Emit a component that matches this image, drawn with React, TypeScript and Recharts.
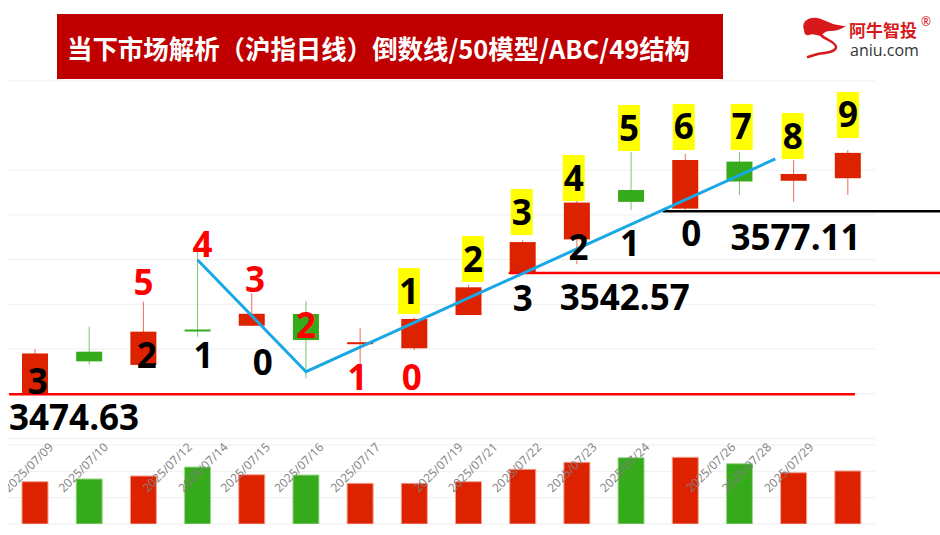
import React from 'react';
import {
	ComposedChart,
	Bar,
	Line,
	Scatter,
	XAxis,
	YAxis,
	CartesianGrid,
	ReferenceLine,
	Cell,
} from 'recharts';

// 沪指日线 2025/07/08 - 2025/07/29
const DATES = ['07/08', '07/09', '07/10', '07/11', '07/14', '07/15', '07/16', '07/17', '07/18', '07/21', '07/22', '07/23', '07/24', '07/25', '07/28', '07/29'];
const OPEN = [3474.7, 3498.5, 3491.1, 3510.9, 3513.0, 3519.6, 3502.8, 3500.4, 3519.0, 3542.6, 3561.3, 3588.9, 3578.5, 3604.8, 3594.1, 3595.5];
const CLOSE = [3497.5, 3493.1, 3509.7, 3510.2, 3519.7, 3505.0, 3503.8, 3516.8, 3534.5, 3559.8, 3581.9, 3582.3, 3605.7, 3593.7, 3597.9, 3609.7];
const HIGH = [3499.8, 3512.5, 3526.5, 3554.4, 3531.2, 3526.8, 3511.6, 3517.5, 3535.8, 3561.0, 3582.9, 3610.3, 3609.1, 3610.3, 3605.7, 3611.3];
const LOW = [3474.63, 3491.2, 3491.0, 3506.9, 3513.0, 3483.6, 3485.0, 3499.4, 3519.0, 3542.57, 3547.4, 3577.7, 3577.11, 3586.1, 3582.4, 3586.1];
const VOLUME = [4820, 5130, 5470, 6490, 5610, 5580, 4630, 4630, 4820, 6230, 7030, 7550, 7600, 6870, 5840, 6040];

const DATE_LABELS = ['2025/07/09', '2025/07/10', '2025/07/12', '2025/07/14', '2025/07/15', '2025/07/16', '2025/07/17', '2025/07/19', '2025/07/21', '2025/07/22', '2025/07/23', '2025/07/24', '2025/07/26', '2025/07/28', '2025/07/29'];
const DATE_TICKS = [0.35, 1.36, 2.91, 3.57, 4.35, 5.34, 6.38, 7.91, 8.55, 9.36, 10.38, 11.35, 12.94, 13.6, 14.38];

const PRICE_TICKS = [3475, 3500, 3525, 3550, 3575, 3600];
const VOLUME_TICKS = [0, 1000, 2000, 3000, 4000, 5000, 6000, 7000, 8000, 9000];

const LOW_LEVEL = 3474.63;
const MID_LEVEL = 3542.57;
const HIGH_LEVEL = 3577.11;

// ABC 结构线
const ABC_LINE = [
	{ x: 3, y: 3549.8 },
	{ x: 5, y: 3487.3 },
	{ x: 13.66, y: 3606.3 },
];

// 红色顶部计数 5-0
const TOP_COUNT = [
	{ x: 2, y: 3537.2, t: '5' },
	{ x: 3.09, y: 3558.2, t: '4' },
	{ x: 4.06, y: 3538.6, t: '3' },
	{ x: 5, y: 3512.9, t: '2' },
	{ x: 5.95, y: 3484.1, t: '1' },
	{ x: 6.95, y: 3484.3, t: '0' },
];

// 黑色倒数 3-0
const BOTTOM_COUNT = [
	{ x: 0.05, y: 3481.8, t: '3' },
	{ x: 2.06, y: 3496.6, t: '2' },
	{ x: 3.11, y: 3496.4, t: '1' },
	{ x: 4.2, y: 3492.5, t: '0' },
	{ x: 9, y: 3528.2, t: '3' },
	{ x: 10.03, y: 3556.8, t: '2' },
	{ x: 10.98, y: 3559.0, t: '1' },
	{ x: 12.11, y: 3564.6, t: '0' },
];

// 黄底九转 1-9
const NINE_COUNT = [
	{ x: 6.9, y: 3532.4, t: '1' },
	{ x: 8.08, y: 3550.3, t: '2' },
	{ x: 8.98, y: 3576.6, t: '3' },
	{ x: 9.94, y: 3595.6, t: '4' },
	{ x: 10.96, y: 3623.6, t: '5' },
	{ x: 11.97, y: 3624.2, t: '6' },
	{ x: 13.04, y: 3624.2, t: '7' },
	{ x: 13.98, y: 3619.1, t: '8' },
	{ x: 15.0, y: 3630.9, t: '9' },
];

const RED = '#dd2200';
const GREEN = '#35aa1a';
const DIGIT_FONT = "'Open Sans', 'DejaVu Sans', sans-serif";

const candles = DATES.map((d, i) => ({
	date: d,
	x: i,
	open: OPEN[i],
	close: CLOSE[i],
	high: HIGH[i],
	low: LOW[i],
}));

const volumeRows = DATES.map((d, i) => ({
	date: d,
	vol: VOLUME[i],
	up: CLOSE[i] >= OPEN[i],
}));

function CandleShape(props: any) {
	const { x, y, width, height, payload } = props;
	if (!payload) return null;
	const { open, close, high, low } = payload;
	const top = Math.min(y, y + height);
	const h = Math.abs(height);
	const ratio = h / (high - low);
	const yOf = (v: number) => top + (high - v) * ratio;
	const color = close >= open ? RED : GREEN;
	const bodyTop = yOf(Math.max(open, close));
	const bodyBottom = yOf(Math.min(open, close));
	const cx = x + width / 2;
	return (
		<g>
			<line x1={cx} x2={cx} y1={top} y2={top + h} stroke={color} strokeOpacity={0.65} strokeWidth={1} />
			<rect x={x} y={bodyTop} width={width} height={Math.max(bodyBottom - bodyTop, 2)} fill={color} />
		</g>
	);
}

// date labels hang down-left from just under the candle area
function DateTick(props: any) {
	const { x, payload } = props;
	const i = DATE_TICKS.indexOf(payload.value);
	return (
		<g transform={`translate(${x},448)`}>
			<text x={0} y={0} textAnchor="end" transform="rotate(-45)" fill="#808080" fontSize={12} fontFamily={DIGIT_FONT}>
				{DATE_LABELS[i]}
			</text>
		</g>
	);
}

function digitText(cx: number, cy: number, t: string, fill: string) {
	return (
		<text x={cx} y={cy + 12.5} textAnchor="middle" fill={fill} fontSize={35} fontWeight={700} fontFamily={DIGIT_FONT}>
			{t}
		</text>
	);
}

const RedShape = (p: any) => digitText(p.cx, p.cy, p.payload.t, '#ff0000');
const BlackShape = (p: any) => digitText(p.cx, p.cy, p.payload.t, '#000000');
const YellowShape = (p: any) => (
	<g>
		<rect x={p.cx - 11} y={p.cy - 23} width={22} height={46} fill="#ffff00" />
		{digitText(p.cx, p.cy, p.payload.t, '#000000')}
	</g>
);

function levelLabel(text: string, dx: number, dy: number) {
	return (props: any) => {
		const vb = props.viewBox || {};
		return (
			<text x={vb.x + dx} y={vb.y + dy} fill="#000" fontSize={35} fontWeight={700} fontFamily={DIGIT_FONT}>
				{text}
			</text>
		);
	};
}

function VolumeChart() {
	return (
		<ComposedChart width={932} height={535} data={volumeRows} margin={{ top: 445, right: 65, bottom: 11, left: 0 }}>
			<CartesianGrid vertical={false} stroke="#efefef" />
			<XAxis dataKey="date" hide />
			<YAxis domain={[0, 9000]} ticks={VOLUME_TICKS} allowDataOverflow hide />
			<Bar dataKey="vol" barSize={26} isAnimationActive={false}>
				{volumeRows.map((r) => (
					<Cell key={r.date} fill={r.up ? RED : GREEN} stroke={r.up ? '#f3a190' : '#9ed88c'} strokeWidth={1} />
				))}
			</Bar>
		</ComposedChart>
	);
}

function PriceChart() {
	return (
		<ComposedChart width={932} height={535} data={candles} margin={{ top: 80.8, right: 65, bottom: 0, left: 0 }}>
			<CartesianGrid vertical={false} stroke="#efefef" xAxisId="num" yAxisId="p" />
			<XAxis xAxisId="cat" dataKey="date" type="category" hide />
			<XAxis
				xAxisId="num"
				dataKey="x"
				type="number"
				domain={[-0.5, 15.5]}
				allowDataOverflow
				ticks={DATE_TICKS}
				interval={0}
				tick={<DateTick />}
				tickLine={false}
				axisLine={false}
				height={96.6}
			/>
			<YAxis yAxisId="p" dataKey="y" type="number" domain={[3450, 3650]} ticks={PRICE_TICKS} allowDataOverflow hide />
			<Bar xAxisId="cat" yAxisId="p" dataKey={(d: any) => [d.low, d.high]} barSize={26} shape={CandleShape} isAnimationActive={false} />
			<ReferenceLine
				xAxisId="num"
				yAxisId="p"
				segment={[{ x: -0.48, y: LOW_LEVEL }, { x: 15.13, y: LOW_LEVEL }]}
				stroke="#ff0000"
				strokeWidth={2.5}
				ifOverflow="visible"
				label={levelLabel('3474.63', 0, 35.5)}
			/>
			<ReferenceLine
				xAxisId="num"
				yAxisId="p"
				segment={[{ x: 8.74, y: MID_LEVEL }, { x: 17, y: MID_LEVEL }]}
				stroke="#ff0000"
				strokeWidth={2.5}
				ifOverflow="visible"
				label={levelLabel('3542.57', 51, 37.5)}
			/>
			<ReferenceLine
				xAxisId="num"
				yAxisId="p"
				segment={[{ x: 11.58, y: HIGH_LEVEL }, { x: 17, y: HIGH_LEVEL }]}
				stroke="#000000"
				strokeWidth={2.5}
				ifOverflow="visible"
				label={levelLabel('3577.11', 68, 39)}
			/>
			<Line
				xAxisId="num"
				yAxisId="p"
				data={ABC_LINE}
				dataKey="y"
				stroke="#1aa7e6"
				strokeWidth={3}
				dot={false}
				activeDot={false}
				isAnimationActive={false}
			/>
			<Scatter xAxisId="num" yAxisId="p" data={TOP_COUNT} shape={RedShape} isAnimationActive={false} />
			<Scatter xAxisId="num" yAxisId="p" data={BOTTOM_COUNT} shape={BlackShape} isAnimationActive={false} />
			<Scatter xAxisId="num" yAxisId="p" data={NINE_COUNT} shape={YellowShape} isAnimationActive={false} />
		</ComposedChart>
	);
}

function Header() {
	return (
		<svg width={940} height={80} style={{ position: 'absolute', left: 0, top: 0 }}>
			<rect x={57} y={14} width={666} height={65} fill="#c00000" />
			<text
				x={67}
				y={59}
				fill="#ffffff"
				fontSize={26}
				fontWeight={700}
				fontFamily="'Noto Sans CJK SC', sans-serif"
				textLength={623}
				lengthAdjust="spacingAndGlyphs"
			>
				当下市场解析（沪指日线）倒数线/50模型/ABC/49结构
			</text>
			{/* logo */}
			<path
				d="M804,30 C801,22 808,17 817,18 C824,19 830,24 838,25 C842,26 845,26 846,26 C842,29 836,31 830,31 C826,31 823,33 821,36 C816,35 812,33 809,35 C806,36 804,34 804,30 Z"
				fill="#d7191b"
			/>
			<path
				d="M821,35 C826,40 836,42 836,47 C836,52 826,53 818,54 C814,55 811,56 808,57"
				fill="none"
				stroke="#d7191b"
				strokeWidth={2.5}
				strokeLinecap="round"
			/>
			<text x={849} y={37} fill="#d7191b" fontSize={17} fontWeight={700} fontFamily="'Noto Sans CJK SC', sans-serif">
				阿牛智投
			</text>
			<text x={921} y={26} fill="#d7191b" fontSize={12} fontFamily="'Noto Sans', sans-serif">
				®
			</text>
			<text x={850} y={56} fill="#333333" fontSize={16} fontFamily="'Open Sans', sans-serif">
				aniu.com
			</text>
		</svg>
	);
}

export default function App() {
	return (
		<div style={{ position: 'absolute', left: 0, top: 0, width: 940, height: 535, background: '#ffffff', overflow: 'hidden' }}>
			<div style={{ position: 'absolute', left: 8, top: 0 }}>
				<VolumeChart />
			</div>
			<div style={{ position: 'absolute', left: 8, top: 0 }}>
				<PriceChart />
			</div>
			<Header />
		</div>
	);
}
